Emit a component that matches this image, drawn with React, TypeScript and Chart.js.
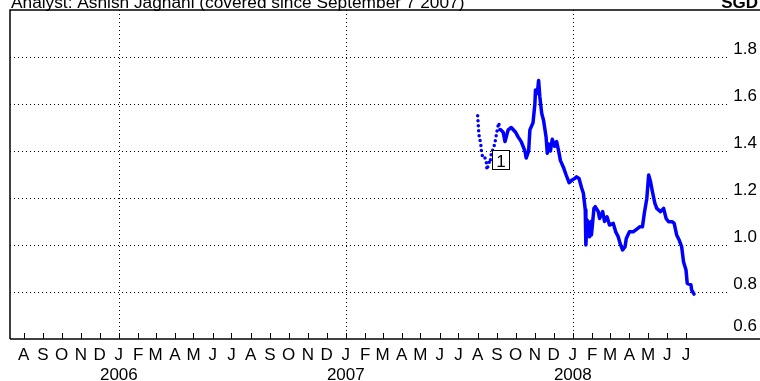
import React, { useEffect, useRef } from 'react';
import { Chart, registerables } from 'chart.js';

Chart.register(...registerables);

const HEADER_TEXT = 'Analyst: Ashish Jagnani (covered since September 7 2007)';
const CURRENCY = 'SGD';

const MONTH_LETTERS = ['J', 'F', 'M', 'A', 'M', 'J', 'J', 'A', 'S', 'O', 'N', 'D'];
const FIRST_TICK_MONTH = '2005-08';
const LAST_TICK_MONTH = '2008-07';
const AXIS_START = '2005-07-10';
const AXIS_END = '2008-10-28';

const Y_TICKS = [0.6, 0.8, 1.0, 1.2, 1.4, 1.6, 1.8];
const Y_LABELS = ['0.6', '0.8', '1.0', '1.2', '1.4', '1.6', '1.8'];
const Y_MIN = 0.6;
const Y_MAX = 2.0;

// Price before coverage started (dotted)
const PRE_COVERAGE_DATES = [
  '2007-08-01', '2007-08-02', '2007-08-03', '2007-08-06', '2007-08-07', '2007-08-08',
  '2007-08-09', '2007-08-10', '2007-08-13', '2007-08-14', '2007-08-15', '2007-08-16',
  '2007-08-17', '2007-08-20', '2007-08-21', '2007-08-22', '2007-08-23', '2007-08-24',
  '2007-08-27', '2007-08-28', '2007-08-29', '2007-08-30', '2007-08-31', '2007-09-03',
  '2007-09-04', '2007-09-05', '2007-09-06', '2007-09-07',
];
const PRE_COVERAGE_PRICES = [
  1.55, 1.51, 1.47, 1.43, 1.40, 1.39,
  1.37, 1.37, 1.37, 1.36, 1.35, 1.32,
  1.33, 1.355, 1.35, 1.37, 1.39, 1.40,
  1.41, 1.43, 1.44, 1.45, 1.47, 1.51,
  1.52, 1.50, 1.49, 1.49,
];

// Price during coverage (solid)
const COVERAGE_DATES = [
  '2007-09-07', '2007-09-11', '2007-09-14', '2007-09-19', '2007-09-24', '2007-10-01',
  '2007-10-05', '2007-10-10', '2007-10-16', '2007-10-18', '2007-10-22', '2007-10-24',
  '2007-10-29', '2007-11-01', '2007-11-02', '2007-11-05', '2007-11-07', '2007-11-09',
  '2007-11-12', '2007-11-15', '2007-11-19', '2007-11-21', '2007-11-23', '2007-11-26',
  '2007-11-29', '2007-12-03', '2007-12-06', '2007-12-10', '2007-12-12', '2007-12-17',
  '2007-12-21', '2007-12-26', '2007-12-31', '2008-01-04', '2008-01-07', '2008-01-11',
  '2008-01-15', '2008-01-18', '2008-01-21', '2008-01-22', '2008-01-24', '2008-01-28',
  '2008-01-30', '2008-01-31', '2008-02-04', '2008-02-06', '2008-02-11', '2008-02-13',
  '2008-02-18', '2008-02-21', '2008-02-25', '2008-02-29', '2008-03-06', '2008-03-10',
  '2008-03-14', '2008-03-17', '2008-03-21', '2008-03-25', '2008-03-27', '2008-04-01',
  '2008-04-07', '2008-04-14', '2008-04-18', '2008-04-22', '2008-04-25', '2008-04-29',
  '2008-05-02', '2008-05-05', '2008-05-08', '2008-05-12', '2008-05-15', '2008-05-21',
  '2008-05-26', '2008-05-30', '2008-06-03', '2008-06-09', '2008-06-12', '2008-06-16',
  '2008-06-20', '2008-06-24', '2008-06-27', '2008-07-01', '2008-07-03', '2008-07-09',
  '2008-07-10', '2008-07-14',
];
const COVERAGE_PRICES = [
  1.49, 1.48, 1.44, 1.49, 1.50, 1.48,
  1.46, 1.44, 1.40, 1.37, 1.40, 1.49,
  1.52, 1.60, 1.66, 1.645, 1.70, 1.63,
  1.56, 1.53, 1.46, 1.39, 1.43, 1.40,
  1.45, 1.42, 1.44, 1.39, 1.36, 1.33,
  1.30, 1.265, 1.277, 1.283, 1.29, 1.283,
  1.245, 1.22, 1.15, 1.00, 1.106, 1.035,
  1.10, 1.043, 1.156, 1.163, 1.142, 1.113,
  1.142, 1.10, 1.12, 1.085, 1.092, 1.056,
  1.035, 1.007, 0.979, 0.993, 1.028, 1.056,
  1.056, 1.07, 1.078, 1.078, 1.135, 1.198,
  1.298, 1.269, 1.227, 1.177, 1.156, 1.142,
  1.156, 1.113, 1.099, 1.099, 1.092, 1.043,
  1.021, 0.993, 0.929, 0.894, 0.837, 0.83,
  0.809, 0.791,
];

// Rating flag
const RATING_LABELS = ['1'];
const RATING_DATES = ['2007-09-07'];
const RATING_LEVELS = [1.364];

const FONT = "'Liberation Sans', Arial, Helvetica, sans-serif";
const LINE_BLUE = '#0000ff';
const DAY_MS = 86400000;

const dayNum = (s: string): number => {
  const [y, m, d] = s.split('-').map(Number);
  return Date.UTC(y, m - 1, d || 1) / DAY_MS;
};

const monthTicks = (): number[] => {
  const [fy, fm] = FIRST_TICK_MONTH.split('-').map(Number);
  const [ly, lm] = LAST_TICK_MONTH.split('-').map(Number);
  const out: number[] = [];
  let y = fy;
  let m = fm - 1;
  while (y < ly || (y === ly && m <= lm - 1)) {
    out.push(Date.UTC(y, m, 1) / DAY_MS);
    m++;
    if (m > 11) { m = 0; y++; }
  }
  return out;
};

const decorPlugin = {
  id: 'decor',
  beforeDatasetsDraw(chart: any) {
    const { ctx, chartArea: a, scales } = chart;
    const xs = scales.x;
    const ys = scales.y;
    ctx.save();
    ctx.strokeStyle = '#000';
    ctx.lineWidth = 1;
    ctx.setLineDash([1, 3]);
    ys.ticks.forEach((t: any) => {
      if (t.value <= ys.min + 1e-9) return;
      const py = Math.round(ys.getPixelForValue(t.value)) + 0.5;
      ctx.beginPath();
      ctx.moveTo(a.left, py);
      ctx.lineTo(a.right - 32, py);
      ctx.stroke();
    });
    xs.ticks.forEach((t: any) => {
      const d = new Date(t.value * DAY_MS);
      if (d.getUTCMonth() !== 0) return;
      const px = Math.round(xs.getPixelForValue(t.value)) + 0.5;
      ctx.beginPath();
      ctx.moveTo(px, a.top);
      ctx.lineTo(px, a.bottom);
      ctx.stroke();
    });
    ctx.setLineDash([]);
    xs.ticks.forEach((t: any) => {
      const px = Math.round(xs.getPixelForValue(t.value)) + 0.5;
      ctx.beginPath();
      ctx.moveTo(px, a.bottom);
      ctx.lineTo(px, a.bottom - 6);
      ctx.stroke();
    });
    ctx.lineWidth = 1.5;
    ctx.beginPath();
    ctx.moveTo(a.left, a.bottom);
    ctx.lineTo(a.left, a.top);
    ctx.lineTo(a.right, a.top);
    ctx.stroke();
    ctx.beginPath();
    ctx.moveTo(a.left, a.bottom);
    ctx.lineTo(a.right, a.bottom);
    ctx.stroke();
    ctx.restore();
  },
  afterDatasetsDraw(chart: any) {
    const { ctx, scales } = chart;
    ctx.save();
    RATING_LABELS.forEach((lab, i) => {
      const cx = scales.x.getPixelForValue(dayNum(RATING_DATES[i]));
      const cy = scales.y.getPixelForValue(RATING_LEVELS[i]);
      const w = 17;
      const h = 19;
      const bx = Math.round(cx - w / 2) + 0.5;
      const by = Math.round(cy - h / 2) + 0.5;
      ctx.fillStyle = '#fff';
      ctx.fillRect(bx, by, w, h);
      ctx.strokeStyle = '#000';
      ctx.lineWidth = 1;
      ctx.strokeRect(bx, by, w, h);
      ctx.fillStyle = '#000';
      ctx.font = `17px ${FONT}`;
      ctx.textAlign = 'center';
      ctx.textBaseline = 'alphabetic';
      ctx.fillText(lab, bx + w / 2, by + h - 3);
    });
    ctx.restore();
  },
  afterDraw(chart: any) {
    const { ctx } = chart;
    ctx.save();
    ctx.fillStyle = '#000';
    ctx.textBaseline = 'alphabetic';
    ctx.font = `17.3px ${FONT}`;
    ctx.textAlign = 'left';
    ctx.fillText(HEADER_TEXT, 11, 8);
    ctx.font = `bold 17px ${FONT}`;
    ctx.textAlign = 'right';
    ctx.fillText(CURRENCY, 758, 8);
    ctx.restore();
  },
};

export default function App() {
  const ref = useRef<HTMLCanvasElement | null>(null);

  useEffect(() => {
    if (!ref.current) return;
    const ticksX = monthTicks();
    const chart = new Chart(ref.current, {
      type: 'line',
      data: {
        datasets: [
          {
            label: 'Pre-coverage',
            data: PRE_COVERAGE_DATES.map((d, i) => ({ x: dayNum(d), y: PRE_COVERAGE_PRICES[i] })),
            borderColor: LINE_BLUE,
            borderWidth: 3.5,
            borderDash: [0, 5],
            borderCapStyle: 'round',
            pointRadius: 0,
            tension: 0,
            fill: false,
          },
          {
            label: 'Coverage',
            data: COVERAGE_DATES.map((d, i) => ({ x: dayNum(d), y: COVERAGE_PRICES[i] })),
            borderColor: LINE_BLUE,
            borderWidth: 3.5,
            borderJoinStyle: 'round',
            borderCapStyle: 'round',
            pointRadius: 0,
            tension: 0,
            fill: false,
          },
        ],
      },
      options: {
        animation: false,
        responsive: false,
        devicePixelRatio: 1,
        layout: { padding: { left: 10, top: 10, right: 0, bottom: 0 } },
        plugins: { legend: { display: false }, tooltip: { enabled: false } },
        scales: {
          x: {
            type: 'linear',
            min: dayNum(AXIS_START),
            max: dayNum(AXIS_END),
            afterBuildTicks: (scale: any) => {
              scale.ticks = ticksX.map((v) => ({ value: v }));
            },
            afterFit: (scale: any) => {
              scale.height = 42;
              scale.paddingLeft = 0;
              scale.paddingRight = 0;
            },
            grid: { display: false, drawTicks: false },
            border: { display: false },
            ticks: {
              autoSkip: false,
              maxRotation: 0,
              minRotation: 0,
              padding: 6,
              color: '#000',
              font: { family: FONT, size: 17, lineHeight: 1.18 },
              callback: (value: any) => {
                const d = new Date(Number(value) * DAY_MS);
                const letter = MONTH_LETTERS[d.getUTCMonth()];
                return d.getUTCMonth() === 0 ? [letter, String(d.getUTCFullYear())] : letter;
              },
            },
          },
          y: {
            type: 'linear',
            position: 'right',
            min: Y_MIN,
            max: Y_MAX,
            afterBuildTicks: (scale: any) => {
              scale.ticks = Y_TICKS.map((v) => ({ value: v }));
            },
            afterFit: (scale: any) => {
              scale.width = 0;
              scale.paddingTop = 0;
              scale.paddingBottom = 0;
            },
            grid: { display: false, drawTicks: false },
            border: { display: false },
            ticks: {
              mirror: true,
              padding: -3,
              labelOffset: -8,
              color: '#000',
              font: (c: any) =>
                c.index === 0
                  ? { family: FONT, size: 17, lineHeight: 0.6 }
                  : { family: FONT, size: 17 },
              callback: (value: any) => {
                const i = Y_TICKS.findIndex((v) => Math.abs(v - Number(value)) < 1e-9);
                if (i < 0) return '';
                return i === 0 ? [Y_LABELS[i], ''] : Y_LABELS[i];
              },
            },
          },
        },
      },
      plugins: [decorPlugin],
    } as any);
    return () => chart.destroy();
  }, []);

  return (
    <div style={{ position: 'absolute', left: 0, top: 0, width: 760, height: 381, background: '#fff' }}>
      <canvas ref={ref} width={760} height={381} style={{ width: 760, height: 381, display: 'block' }} />
    </div>
  );
}
